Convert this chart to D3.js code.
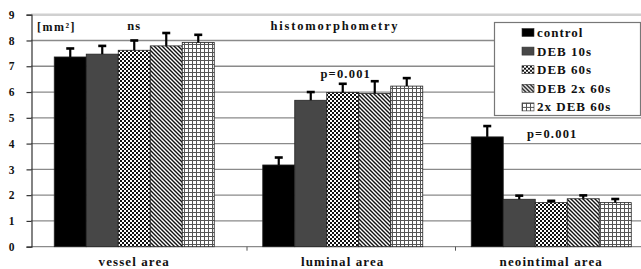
<!DOCTYPE html>
<html>
<head>
<meta charset="utf-8">
<script src="https://cdn.jsdelivr.net/npm/d3@7"></script>
<style>
  body { margin: 0; background: #fff; }
  svg { display: block; font-family: "Liberation Serif", "DejaVu Serif", serif; font-weight: bold; }
</style>
</head>
<body>
<svg id="chart" width="641" height="269"></svg>
<script>
/* data */
const categories = ["vessel area", "luminal area", "neointimal area"];
const series = ["control", "DEB 10s", "DEB 60s", "DEB 2x 60s", "2x DEB 60s"];
const means = [
    [7.36, 7.47, 7.62, 7.79, 7.92],
    [3.17, 5.68, 5.98, 5.94, 6.23],
    [4.26, 1.84, 1.71, 1.86, 1.71]
];
const errTops = [
    [7.69, 7.79, 8.00, 8.29, 8.22],
    [3.46, 6.00, 6.32, 6.42, 6.54],
    [4.68, 1.98, 1.78, 1.99, 1.85]
];
const yTicks = [0, 1, 2, 3, 4, 5, 6, 7, 8, 9];
const notes = [
    {cat: "vessel area", text: "ns", y: 8.42},
    {cat: "luminal area", text: "p=0.001", y: 6.54, dx: 3},
    {cat: "neointimal area", text: "p=0.001", y: 4.2, dx: 1}
];

const svg = d3.select("#chart");
const width = 641;

const y = d3.scaleLinear().domain([0, 9]).range([246.7, 14.7]);
const x = d3.scaleBand().domain(categories).range([30, 30 + 3 * 208.5]);
const groupW = 160;
const xs = d3.scaleBand().domain(series).range([0, groupW]);

// fills: solid, dark, small checks, diagonal stripes, fine grid
const defs = svg.append("defs");
const p1 = defs.append("pattern").attr("id", "pat-check").attr("patternUnits", "userSpaceOnUse")
    .attr("width", 4).attr("height", 4);
p1.append("rect").attr("width", 4).attr("height", 4).attr("fill", "#fff");
p1.append("rect").attr("width", 2).attr("height", 2).attr("fill", "#111");
p1.append("rect").attr("x", 2).attr("y", 2).attr("width", 2).attr("height", 2).attr("fill", "#111");

const p2 = defs.append("pattern").attr("id", "pat-diag").attr("patternUnits", "userSpaceOnUse")
    .attr("width", 4).attr("height", 4);
p2.append("rect").attr("width", 4).attr("height", 4).attr("fill", "#fff");
p2.append("path").attr("d", "M-1,-1L5,5M-1,3L1,5M3,-1L5,1")
    .attr("stroke", "#111").attr("stroke-width", 1.4);

const p3 = defs.append("pattern").attr("id", "pat-grid").attr("patternUnits", "userSpaceOnUse")
    .attr("width", 4).attr("height", 4);
p3.append("rect").attr("width", 4).attr("height", 4).attr("fill", "#fff");
p3.append("path").attr("d", "M0.5,0V4M0,0.5H4")
    .attr("stroke", "#555").attr("stroke-width", 1);

const fills = ["#000", "#474747", "url(#pat-check)", "url(#pat-diag)", "url(#pat-grid)"];
const color = d3.scaleOrdinal(series, fills);

// gridlines
svg.append("g").selectAll("line")
    .data(yTicks)
    .join("line")
    .attr("x1", 31).attr("x2", width)
    .attr("y1", d => y(d)).attr("y2", d => y(d))
    .attr("stroke", d => d === 9 ? "#d0d0d0" : "#8a8a8a")
    .attr("stroke-width", d => d === 9 ? 2.5 : 1.3);

// y axis
const yAxis = svg.append("g")
    .attr("transform", "translate(31.5,0)")
    .call(d3.axisLeft(y).tickValues(yTicks).tickSize(5).tickPadding(12).tickFormat(d3.format("d")));
yAxis.select(".domain").attr("stroke", "#333").attr("stroke-width", 1.2);
yAxis.selectAll(".tick line").attr("stroke", "#333").attr("stroke-width", 1.2);
yAxis.selectAll(".tick text")
    .attr("font-family", "Liberation Serif, serif")
    .attr("font-weight", "bold")
    .attr("font-size", 11.5)
    .attr("fill", "#111");

// small x ticks between categories
svg.append("g").selectAll("line")
    .data(categories.slice(1))
    .join("line")
    .attr("x1", d => x(d) + 8.5).attr("x2", d => x(d) + 8.5)
    .attr("y1", y(0)).attr("y2", y(0) + 4)
    .attr("stroke", "#555");

// bars
const rows = categories.flatMap((c, i) => series.map((s, j) => ({
    cat: c, ser: s, v: means[i][j], e: errTops[i][j]
})));
const gx = d => x(d.cat) + (x.bandwidth() - groupW) / 2 + xs(d.ser);

svg.append("g").selectAll("rect")
    .data(rows)
    .join("rect")
    .attr("x", gx)
    .attr("y", d => y(d.v))
    .attr("width", xs.bandwidth())
    .attr("height", d => y(0) - y(d.v))
    .attr("fill", d => color(d.ser))
    .attr("stroke", "#222")
    .attr("stroke-width", 0.8);

// error bars
const eb = svg.append("g").attr("stroke", "#000");
eb.selectAll("line.v")
    .data(rows)
    .join("line")
    .attr("class", "v")
    .attr("x1", d => gx(d) + xs.bandwidth() / 2).attr("x2", d => gx(d) + xs.bandwidth() / 2)
    .attr("y1", d => y(d.v)).attr("y2", d => y(d.e))
    .attr("stroke-width", 2.2);
eb.selectAll("line.c")
    .data(rows)
    .join("line")
    .attr("class", "c")
    .attr("x1", d => gx(d) + xs.bandwidth() / 2 - 4).attr("x2", d => gx(d) + xs.bandwidth() / 2 + 4)
    .attr("y1", d => y(d.e)).attr("y2", d => y(d.e))
    .attr("stroke-width", 2.6);

// category labels
svg.append("g").selectAll("text")
    .data(categories)
    .join("text")
    .attr("x", d => x(d) + x.bandwidth() / 2)
    .attr("y", 266)
    .attr("text-anchor", "middle")
    .attr("font-size", 13)
    .attr("letter-spacing", 1.1)
    .attr("fill", "#111")
    .text(d => d);

// annotations
svg.append("g").selectAll("text")
    .data(notes)
    .join("text")
    .attr("x", d => x(d.cat) + x.bandwidth() / 2 + (d.dx || 0))
    .attr("y", d => y(d.y))
    .attr("text-anchor", "middle")
    .attr("font-size", 12.5)
    .attr("letter-spacing", 1.2)
    .attr("fill", "#111")
    .text(d => d.text);

svg.append("text")
    .attr("x", 335).attr("y", 30)
    .attr("text-anchor", "middle")
    .attr("font-size", 12.5)
    .attr("letter-spacing", 1.8)
    .attr("fill", "#111")
    .text("histomorphometry");

svg.append("text")
    .attr("x", 37).attr("y", 31)
    .attr("font-size", 12)
    .attr("letter-spacing", 1.5)
    .attr("fill", "#111")
    .text("[mm²]");

// legend
const lg = svg.append("g").attr("transform", "translate(494.5,22.5)");
lg.append("rect")
    .attr("width", 146).attr("height", 93)
    .attr("fill", "#fff")
    .attr("stroke", "#777").attr("stroke-width", 1.2);
const item = lg.selectAll("g")
    .data(series)
    .join("g")
    .attr("transform", (d, i) => `translate(27.5,${10 + i * 18.6})`);
item.append("rect")
    .attr("y", -4)
    .attr("width", 12).attr("height", 8)
    .attr("fill", d => color(d))
    .attr("stroke", "#333").attr("stroke-width", 0.6);
item.append("text")
    .attr("x", 15)
    .attr("y", 4.5)
    .attr("font-size", 13)
    .attr("letter-spacing", 1)
    .attr("fill", "#111")
    .text(d => d);
</script>
</body>
</html>
